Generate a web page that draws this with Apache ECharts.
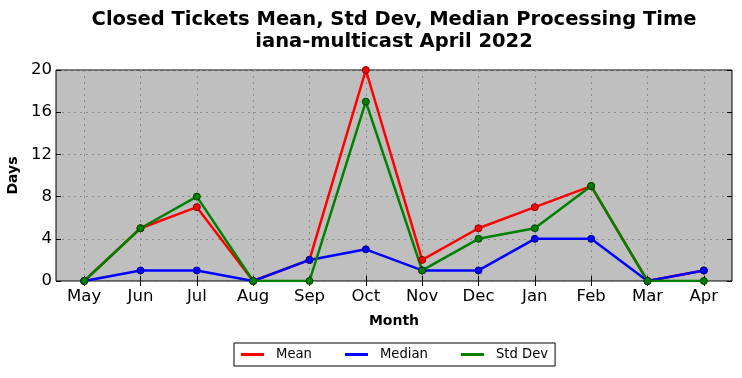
<!DOCTYPE html>
<html><head><meta charset="utf-8">
<script src="https://cdn.jsdelivr.net/npm/echarts@6/dist/echarts.min.js"></script>
<style>html,body{margin:0;padding:0;background:#fff}#c{width:742px;height:378px}</style>
</head><body><div id="c"></div>
<script>
const months = ['May','Jun','Jul','Aug','Sep','Oct','Nov','Dec','Jan','Feb','Mar','Apr'];
const meanVals = [0,5,7,0,2,20,2,5,7,9,0,1];
const medianVals = [0,1,1,0,2,3,1,1,4,4,0,1];
const stdVals = [0,5,8,0,0,17,1,4,5,9,0,0];
const yTicks = [0,4,8,12,16,20];

const F = 'DejaVu Sans';
const chart = echarts.init(document.getElementById('c'), null, {renderer:'canvas'});
function ser(name, data, color, edge){
  return {name, type:'line', data, xAxisIndex:0, yAxisIndex:0,
    symbol:'circle', symbolSize:7, showAllSymbol:true,
    lineStyle:{color, width:2.5}, itemStyle:{color, borderColor:edge, borderWidth:1},
    emphasis:{disabled:true}, animation:false};
}
const catAxis = (pos, labels) => ({type:'category', data:months, position:pos, boundaryGap:true,
  axisLine:{show:false}, axisTick:{show:true, inside:true, alignWithLabel:true, length:5, lineStyle:{color:'#000'}},
  axisLabel:{show:labels, color:'#000', fontFamily:F, fontSize:16.5, margin:7},
  splitLine:{show:labels, alignWithLabel:true, lineStyle:{color:'#8a8a8a', type:[2,4], width:1}}});
const valAxis = (pos, labels) => ({type:'value', min:yTicks[0], max:yTicks[yTicks.length-1], interval:4, position:pos,
  axisLine:{show:false}, axisTick:{show:true, inside:true, length:5, lineStyle:{color:'#000'}},
  axisLabel:{show:labels, color:'#000', fontFamily:F, fontSize:16.5, margin:4},
  splitLine:{show:labels, lineStyle:{color:'#8a8a8a', type:[2,4], width:1}}});
const xa0 = catAxis('bottom', true);
xa0.name = 'Month'; xa0.nameLocation='middle'; xa0.nameGap=33;
xa0.nameTextStyle = {fontFamily:F, fontWeight:'bold', fontSize:14, color:'#000'};
const ya0 = valAxis('left', true);
ya0.name='Days'; ya0.nameLocation='middle'; ya0.nameGap=30;
ya0.nameTextStyle = {fontFamily:F, fontWeight:'bold', fontSize:14, color:'#000'};

chart.setOption({
  animation:false,
  title:{text:'Closed Tickets Mean, Std Dev, Median Processing Time\niana-multicast April 2022',
    left:389, textAlign:'center', top:4,
    textStyle:{fontFamily:F, fontWeight:'bold', fontSize:19.5, color:'#000', lineHeight:22}},
  grid:{left:56, right:10, top:70, bottom:97, show:true, backgroundColor:'#bfbfbf', borderColor:'#000', borderWidth:1,
    containLabel:false, outerBoundsMode:'none'},
  xAxis:[xa0, catAxis('top', false)],
  yAxis:[ya0, valAxis('right', false)],
  legend:{left:234, top:343, orient:'horizontal', itemGap:33, itemWidth:23, itemHeight:3, icon:'rect',
    padding:[5,7,5,7], borderColor:'#000', borderWidth:1,
    itemStyle:{borderWidth:0},
    textStyle:{fontFamily:F, fontSize:13.2, color:'#000', padding:[0,0,0,7]},
    data:['Mean','Median','Std Dev']},
  series:[ser('Mean', meanVals, '#ff0000', '#800000'), ser('Median', medianVals, '#0000ff', '#000080'), ser('Std Dev', stdVals, '#008000', '#004000')]
});
</script></body></html>
